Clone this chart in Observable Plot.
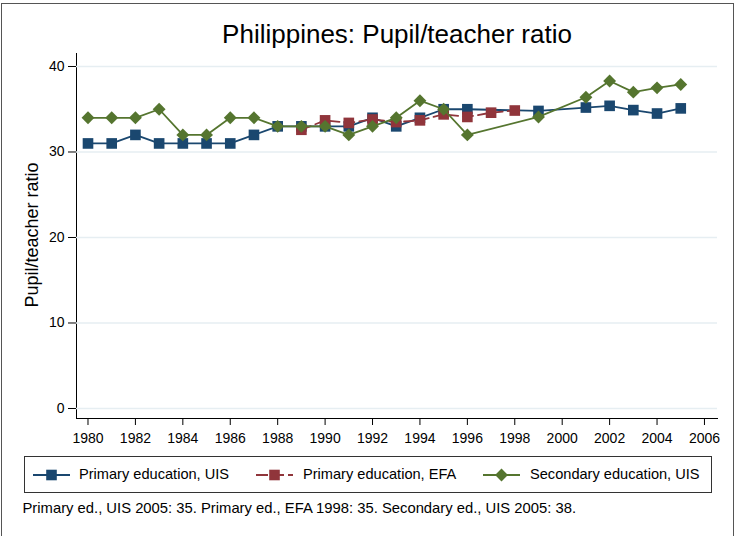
<!DOCTYPE html>
<html><head><meta charset="utf-8">
<script src="https://cdn.jsdelivr.net/npm/d3@7"></script>
<script src="https://cdn.jsdelivr.net/npm/@observablehq/plot@0.6"></script>
<style>
body{margin:0;background:#fff;}
#wrap{position:relative;width:736px;height:536px;overflow:hidden;font-family:"Liberation Sans",Arial,sans-serif;color:#000;}
#border{position:absolute;left:1px;top:3px;width:733px;height:600px;border:1.5px solid #555;box-sizing:border-box;}
.t{position:absolute;line-height:1;white-space:nowrap;}
#plot{position:absolute;left:0;top:0;}
#legbox{position:absolute;left:24px;top:456px;width:688px;height:37px;border:1px solid #333;box-sizing:border-box;}
.sw{position:absolute;top:466px;}
</style></head>
<body><div id="wrap">
<div id="border"></div>
<div id="plot"></div>
<div class="t" id="title" style="left:397px;top:21px;font-size:26px;transform:translateX(-50%);">Philippines: Pupil/teacher ratio</div>
<div class="t" id="ylab" style="left:31.5px;top:235px;font-size:18px;transform:translate(-50%,-50%) rotate(-90deg);">Pupil/teacher ratio</div>
<div id="legbox"></div>
<div id="legend"></div>
<div class="t" id="caption" style="left:22.5px;top:500.5px;font-size:14.8px;"></div>
</div>
<script>
// ---- data ----
const uisYears = [1980,1981,1982,1983,1984,1985,1986,1987,1988,1989,1990,1991,1992,1993,1994,1995,1996,1999,2001,2002,2003,2004,2005];
const primaryUIS = [31,31,32,31,31,31,31,32,33,33,33,33,34,33,34,35,35,34.8,35.2,35.4,34.9,34.5,35.1];
const efaYears = [1989,1990,1991,1992,1993,1994,1995,1996,1997,1998];
const primaryEFA = [32.6,33.7,33.4,33.8,33.5,33.7,34.4,34.1,34.6,34.85];
const secYears = [1980,1981,1982,1983,1984,1985,1986,1987,1988,1989,1990,1991,1992,1993,1994,1995,1996,1999,2001,2002,2003,2004,2005];
const secondaryUIS = [34,34,34,35,32,32,34,34,33,33,33,32,33,34,36,35,32,34.1,36.4,38.3,37.0,37.5,37.9];
const xTicks = [1980,1982,1984,1986,1988,1990,1992,1994,1996,1998,2000,2002,2004,2006];
const yTicks = [0,10,20,30,40];
const seriesNames = ["Primary education, UIS","Primary education, EFA","Secondary education, UIS"];
const captionText = "Primary ed., UIS 2005: 35. Primary ed., EFA 1998: 35. Secondary ed., UIS 2005: 38.";

const colors = ["#1a476f","#90353b","#55752f"];
const dash = "10,5";

const blue = uisYears.map((x,i)=>({x, y: primaryUIS[i]}));
const red = efaYears.map((x,i)=>({x, y: primaryEFA[i]}));
const green = secYears.map((x,i)=>({x, y: secondaryUIS[i]}));

const chart = Plot.plot({
  width: 736, height: 450,
  marginLeft: 76, marginRight: 19, marginTop: 53, marginBottom: 32,
  style: {fontFamily: "'Liberation Sans', Arial, sans-serif", fontSize: "14px", color: "#000", background: "transparent", overflow: "visible"},
  x: {domain: [1979.515, 2006.55], ticks: xTicks, tickFormat: d => String(d), tickSize: 7, tickPadding: 8, label: null, line: true},
  y: {domain: [-1.17, 41.52], ticks: yTicks, tickSize: 8, tickPadding: 4, label: null, line: true},
  marks: [
    Plot.gridY(yTicks, {stroke: "#e6eef2", strokeOpacity: 1, strokeWidth: 1.5}),
    Plot.line(blue, {x: "x", y: "y", stroke: colors[0], strokeWidth: 1.8}),
    Plot.dot(blue, {x: "x", y: "y", symbol: "square", r: 6, fill: colors[0]}),
    Plot.line(red, {x: "x", y: "y", stroke: colors[1], strokeWidth: 1.8, strokeDasharray: dash}),
    Plot.dot(red, {x: "x", y: "y", symbol: "square", r: 6, fill: colors[1]}),
    Plot.line(green, {x: "x", y: "y", stroke: colors[2], strokeWidth: 1.8}),
    Plot.dot(green, {x: "x", y: "y", symbol: "diamond2", r: 5.8, fill: colors[2]})
  ]
});
document.getElementById("plot").appendChild(chart);

// legend
const legend = document.getElementById("legend");
const swX = [33, 256, 483];
const txX = [79, 303, 530];
const ns = "http://www.w3.org/2000/svg";
seriesNames.forEach((name, i) => {
  const svg = document.createElementNS(ns, "svg");
  svg.setAttribute("width", 40); svg.setAttribute("height", 18);
  svg.setAttribute("class", "sw");
  svg.style.left = swX[i] + "px";
  const ln = document.createElementNS(ns, "line");
  ln.setAttribute("x1", 0); ln.setAttribute("x2", 37); ln.setAttribute("y1", 9); ln.setAttribute("y2", 9);
  ln.setAttribute("stroke", colors[i]); ln.setAttribute("stroke-width", 1.8);
  if (i === 1) ln.setAttribute("stroke-dasharray", "12,4");
  svg.appendChild(ln);
  const mk = document.createElementNS(ns, "path");
  if (i === 2) mk.setAttribute("d", "M18.5,2.6L24.9,9L18.5,15.4L12.1,9Z");
  else mk.setAttribute("d", "M13.2,3.7H23.8V14.3H13.2Z");
  mk.setAttribute("fill", colors[i]);
  svg.appendChild(mk);
  legend.appendChild(svg);
  const t = document.createElement("div");
  t.className = "t"; t.textContent = name;
  t.style.left = txX[i] + "px"; t.style.top = "467px"; t.style.fontSize = "14.6px";
  legend.appendChild(t);
});
document.getElementById("caption").textContent = captionText;
</script>
</body></html>
